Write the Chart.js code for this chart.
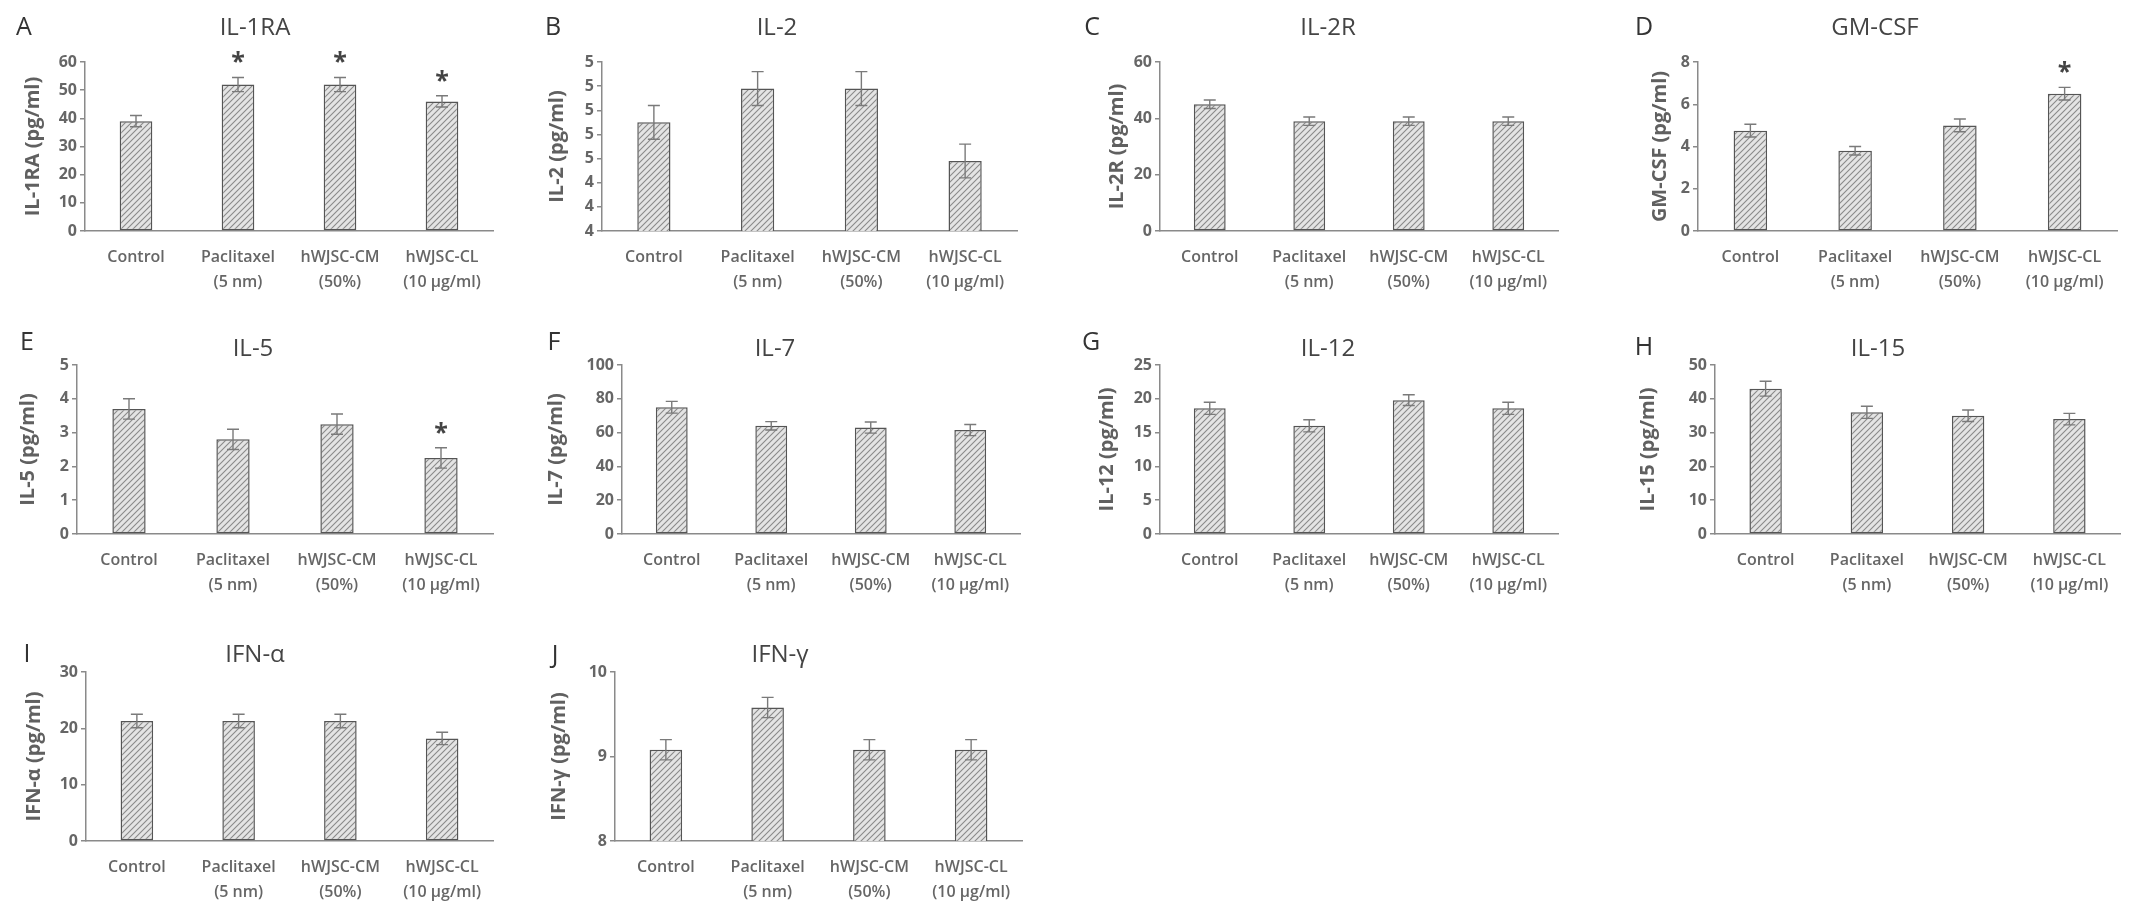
<!DOCTYPE html>
<html>
<head>
<meta charset="utf-8">
<script src="https://cdn.jsdelivr.net/npm/chart.js@4.4.0/dist/chart.umd.min.js"></script>
<style>
  body { margin: 0; background: #fff; }
  #fig { position: relative; width: 2150px; height: 914px; overflow: hidden; font-family: 'Open Sans', sans-serif; }
  .letter { position: absolute; font-size: 25px; color: #333; transform: translate(-50%, -50%); line-height: 1; }
  .title { position: absolute; font-size: 24px; color: #444; transform: translate(-50%, -50%); white-space: nowrap; line-height: 1; }
  canvas { position: absolute; }
</style>
</head>
<body>
<div id="fig"></div>
<script>
// categories (multi-line x labels)
const categories = [['Control'], ['Paclitaxel', '(5 nm)'], ['hWJSC-CM', '(50%)'], ['hWJSC-CL', '(10 µg/ml)']];

// mean values and error (SD)
const il1raMean = [39, 52, 52, 46];
const il1raErr = [2, 2.5, 2.5, 2];
const il1raSig = [false, true, true, true];

const il2Mean = [4.65, 4.79, 4.79, 4.49];
const il2Err = [0.07, 0.07, 0.07, 0.07];
const il2TickLabels = ['4', '4', '4', '5', '5', '5', '5', '5'];

const il2rMean = [45, 39, 39, 39];
const il2rErr = [1.5, 1.5, 1.5, 1.5];

const gmcsfMean = [4.75, 3.8, 5.0, 6.5];
const gmcsfErr = [0.3, 0.2, 0.3, 0.3];
const gmcsfSig = [false, false, false, true];

const il5Mean = [3.7, 2.8, 3.25, 2.25];
const il5Err = [0.3, 0.3, 0.3, 0.3];
const il5Sig = [false, false, false, true];

const il7Mean = [75, 64, 63, 61.5];
const il7Err = [3.5, 2.5, 3.3, 3.3];

const il12Mean = [18.6, 16, 19.8, 18.6];
const il12Err = [0.9, 0.9, 0.8, 0.9];

const il15Mean = [43, 36, 35, 34];
const il15Err = [2.2, 1.8, 1.7, 1.7];

const ifnaMean = [21.3, 21.3, 21.3, 18.2];
const ifnaErr = [1.2, 1.2, 1.2, 1.1];

const ifngMean = [9.08, 9.58, 9.08, 9.08];
const ifngErr = [0.12, 0.12, 0.12, 0.12];

const panels = [
  { letter: 'A', title: 'IL-1RA', yTitle: 'IL-1RA (pg/ml)', mean: il1raMean, err: il1raErr, sig: il1raSig, min: 0, max: 60, step: 10 },
  { letter: 'B', title: 'IL-2', yTitle: 'IL-2 (pg/ml)', mean: il2Mean, err: il2Err, min: 4.2, max: 4.9, step: 0.1, tickLabels: il2TickLabels },
  { letter: 'C', title: 'IL-2R', yTitle: 'IL-2R (pg/ml)', mean: il2rMean, err: il2rErr, min: 0, max: 60, step: 20 },
  { letter: 'D', title: 'GM-CSF', yTitle: 'GM-CSF (pg/ml)', mean: gmcsfMean, err: gmcsfErr, sig: gmcsfSig, min: 0, max: 8, step: 2 },
  { letter: 'E', title: 'IL-5', yTitle: 'IL-5 (pg/ml)', mean: il5Mean, err: il5Err, sig: il5Sig, min: 0, max: 5, step: 1 },
  { letter: 'F', title: 'IL-7', yTitle: 'IL-7 (pg/ml)', mean: il7Mean, err: il7Err, min: 0, max: 100, step: 20 },
  { letter: 'G', title: 'IL-12', yTitle: 'IL-12 (pg/ml)', mean: il12Mean, err: il12Err, min: 0, max: 25, step: 5 },
  { letter: 'H', title: 'IL-15', yTitle: 'IL-15 (pg/ml)', mean: il15Mean, err: il15Err, min: 0, max: 50, step: 10 },
  { letter: 'I', title: 'IFN-α', yTitle: 'IFN-α (pg/ml)', mean: ifnaMean, err: ifnaErr, min: 0, max: 30, step: 10 },
  { letter: 'J', title: 'IFN-γ', yTitle: 'IFN-γ (pg/ml)', mean: ifngMean, err: ifngErr, min: 8, max: 10, step: 1 }
];

// page layout of each panel (plot box, titles)
const layout = [
  { left: 85, right: 493, top: 62, bottom: 231, yTitleX: 33, titleX: 255, titleY: 26, letterX: 24, letterY: 25 },
  { left: 602, right: 1017, top: 62, bottom: 231, yTitleX: 557, titleX: 777, titleY: 26, letterX: 553, letterY: 25 },
  { left: 1160, right: 1558, top: 62, bottom: 231, yTitleX: 1117, titleX: 1328, titleY: 26, letterX: 1092, letterY: 25 },
  { left: 1698, right: 2117, top: 62, bottom: 231, yTitleX: 1660, titleX: 1875, titleY: 26, letterX: 1644, letterY: 25 },
  { left: 77, right: 493, top: 365, bottom: 534, yTitleX: 28, titleX: 253, titleY: 347, letterX: 27, letterY: 340 },
  { left: 622, right: 1020, top: 365, bottom: 534, yTitleX: 556, titleX: 775, titleY: 347, letterX: 554, letterY: 340 },
  { left: 1160, right: 1558, top: 365, bottom: 534, yTitleX: 1107, titleX: 1328, titleY: 347, letterX: 1091, letterY: 340 },
  { left: 1715, right: 2120, top: 365, bottom: 534, yTitleX: 1648, titleX: 1878, titleY: 347, letterX: 1644, letterY: 345 },
  { left: 86, right: 493, top: 672, bottom: 841, yTitleX: 34, titleX: 255, titleY: 653, letterX: 27, letterY: 652 },
  { left: 615, right: 1022, top: 672, bottom: 841, yTitleX: 559, titleX: 780, titleY: 653, letterX: 555, letterY: 653 }
];

const FONT = "'Open Sans', sans-serif";
const fig = document.getElementById('fig');

function makeHatch() {
  const c = document.createElement('canvas');
  c.width = 6; c.height = 6;
  const g = c.getContext('2d');
  g.fillStyle = '#e4e4e4';
  g.fillRect(0, 0, 6, 6);
  g.strokeStyle = '#8a8a8a';
  g.lineWidth = 1.1;
  g.beginPath();
  g.moveTo(0, 6); g.lineTo(6, 0);
  g.moveTo(-1, 1); g.lineTo(1, -1);
  g.moveTo(5, 7); g.lineTo(7, 5);
  g.stroke();
  return g.createPattern(c, 'repeat');
}

// error bars + significance asterisks
const errorBars = {
  id: 'errorBars',
  afterDatasetsDraw(chart) {
    const { ctx } = chart;
    const y = chart.scales.y;
    const ds = chart.data.datasets[0];
    const meta = chart.getDatasetMeta(0);
    ctx.save();
    meta.data.forEach((bar, i) => {
      const v = ds.data[i], e = ds.errors[i];
      const hi = y.getPixelForValue(v + e);
      const lo = y.getPixelForValue(v - e);
      ctx.strokeStyle = '#7a7a7a';
      ctx.lineWidth = 1.4;
      ctx.beginPath();
      ctx.moveTo(bar.x, lo); ctx.lineTo(bar.x, hi);
      ctx.moveTo(bar.x - 6, hi); ctx.lineTo(bar.x + 6, hi);
      ctx.moveTo(bar.x - 6, lo); ctx.lineTo(bar.x + 6, lo);
      ctx.stroke();
      if (ds.sig && ds.sig[i]) {
        ctx.fillStyle = '#444';
        ctx.font = 'bold 25px ' + FONT;
        ctx.textAlign = 'center';
        ctx.textBaseline = 'alphabetic';
        ctx.fillText('*', bar.x, hi - 7);
      }
    });
    ctx.restore();
  }
};

function addText(cls, text, x, y) {
  const d = document.createElement('div');
  d.className = cls;
  d.textContent = text;
  d.style.left = x + 'px';
  d.style.top = y + 'px';
  fig.appendChild(d);
}

function drawPanel(p, L, hatch) {
  const padTop = 45, padRight = 8, xAxisH = 72, yTitleHalf = 12;
  const left = L.yTitleX - yTitleHalf;
  const width = L.right - left + padRight;
  const height = padTop + (L.bottom - L.top) + xAxisH;
  const canvas = document.createElement('canvas');
  canvas.width = width;
  canvas.height = height;
  canvas.style.left = left + 'px';
  canvas.style.top = (L.top - padTop) + 'px';
  canvas.style.width = width + 'px';
  canvas.style.height = height + 'px';
  fig.appendChild(canvas);

  addText('letter', p.letter, L.letterX, L.letterY);
  addText('title', p.title, L.titleX, L.titleY);

  new Chart(canvas, {
    type: 'bar',
    data: {
      labels: categories,
      datasets: [{
        data: p.mean,
        errors: p.err,
        sig: p.sig,
        backgroundColor: hatch,
        borderColor: '#555',
        borderWidth: 1.5,
        borderSkipped: false,
        barPercentage: 0.32,
        categoryPercentage: 1
      }]
    },
    options: {
      responsive: false,
      animation: false,
      devicePixelRatio: 1,
      layout: { padding: { top: padTop, right: padRight, left: 0, bottom: 0 } },
      plugins: { legend: { display: false }, tooltip: { enabled: false } },
      scales: {
        x: {
          grid: { display: true, drawOnChartArea: false, drawTicks: false },
          border: { color: '#8a8a8a', width: 1.5 },
          ticks: {
            autoSkip: false, maxRotation: 0, minRotation: 0, padding: 14,
            color: '#666',
            font: { family: FONT, size: 16, weight: '600', lineHeight: 1.55 }
          },
          afterFit(scale) { scale.height = xAxisH; }
        },
        y: {
          min: p.min,
          max: p.max,
          grid: { display: true, drawOnChartArea: false, drawTicks: true, tickLength: 5, color: '#8a8a8a', lineWidth: 1.5 },
          border: { color: '#8a8a8a', width: 1.5 },
          ticks: {
            stepSize: p.step,
            padding: 3,
            color: '#666',
            font: { family: FONT, size: 16, weight: 'bold' },
            callback: (v, i) => p.tickLabels ? p.tickLabels[i] : v
          },
          title: {
            display: true,
            text: p.yTitle,
            color: '#606060',
            padding: { top: 0, bottom: 0 },
            font: { family: FONT, size: 20, weight: 'bold' }
          },
          afterFit(scale) { scale.width = L.left - left; }
        }
      }
    },
    plugins: [errorBars]
  });
}

Promise.all([
  document.fonts.load('16px "Open Sans"'),
  document.fonts.load('600 16px "Open Sans"'),
  document.fonts.load('bold 20px "Open Sans"')
]).catch(() => {}).then(() => {
  const hatch = makeHatch();
  panels.forEach((p, i) => drawPanel(p, layout[i], hatch));
});
</script>
</body>
</html>
